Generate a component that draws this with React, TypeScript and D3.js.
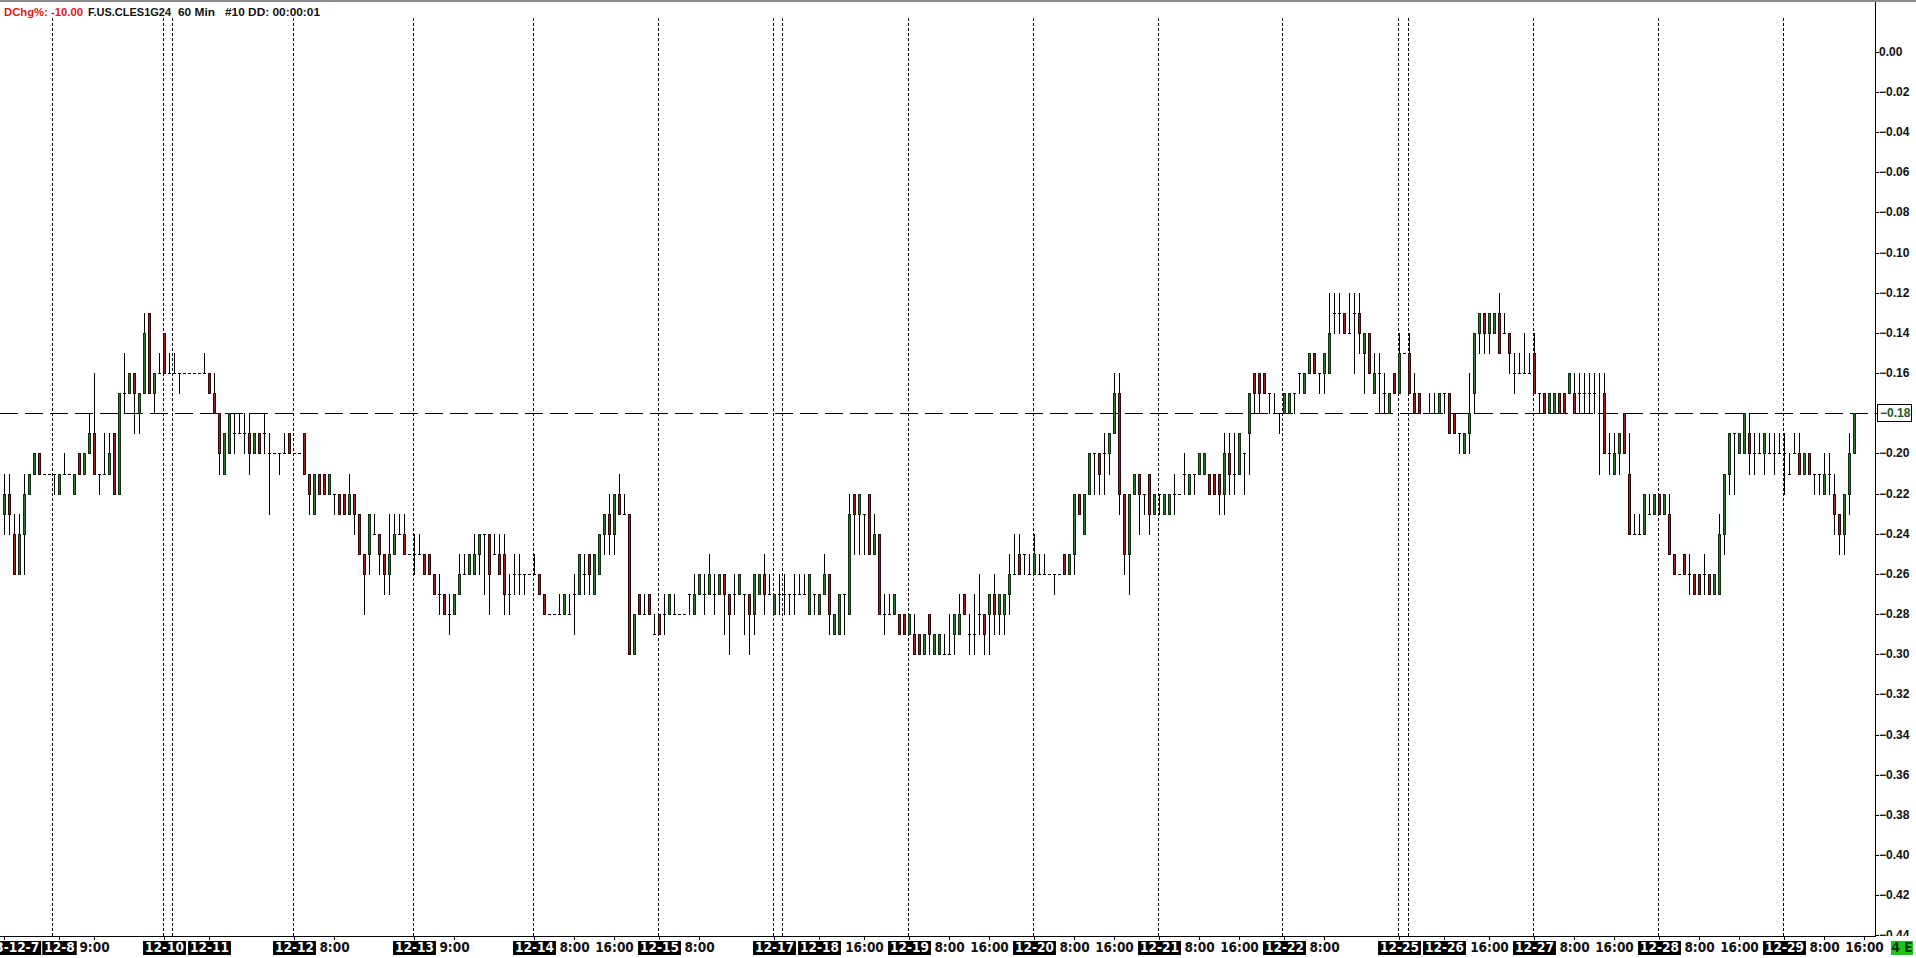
import { useEffect, useRef } from 'react';
import * as d3 from 'd3';

// 60 min bars, DChg% in hundredths below zero (23 means -0.23)
const barOpen = [
  23, 22, 24, 26, 24, 22, 21, 20, 21, 21, 21, 22, 21, 21, 22, 20, 21, 20, 19, 21,
  21, 21, 19, 22, 17, 17, 16, 18, 17, 13, 17, 16, 14, 16, 16, 16, 16, 16, 16, 16,
  16, 16, 17, 18, 21, 20, 19, 19, 19, 19, 20, 19, 19, 20, 20, 20, 20, 19, 20, 20,
  19, 21, 23, 21, 21, 22, 22, 22, 22, 23, 22, 23, 25, 25, 24, 24, 25, 26, 25, 24,
  24, 25, 25, 25, 25, 25, 26, 27, 27, 28, 28, 27, 26, 26, 26, 25, 24, 24, 25, 25,
  25, 27, 26, 26, 26, 26, 26, 26, 27, 28, 28, 28, 28, 28, 27, 27, 26, 25, 27, 26,
  24, 23, 24, 22, 23, 23, 30, 27, 28, 27, 29, 28, 28, 28, 28, 28, 28, 27, 28, 27,
  27, 27, 27, 27, 26, 27, 27, 27, 27, 27, 28, 27, 26, 27, 28, 27, 27, 27, 27, 27,
  27, 28, 27, 28, 27, 26, 29, 29, 27, 28, 22, 23, 23, 22, 25, 24, 28, 28, 28, 28,
  28, 29, 29, 29, 30, 28, 30, 30, 30, 30, 29, 29, 27, 29, 29, 28, 28, 28, 27, 28,
  28, 27, 26, 25, 25, 26, 26, 26, 26, 26, 26, 26, 25, 26, 25, 22, 24, 22, 20, 20,
  20, 20, 19, 17, 22, 25, 22, 21, 22, 21, 23, 22, 23, 23, 22, 22, 21, 22, 21, 21,
  21, 21, 21, 21, 22, 20, 21, 21, 20, 19, 16, 16, 16, 17, 18, 18, 18, 18, 17, 16,
  17, 16, 15, 16, 16, 16, 13, 13, 13, 14, 13, 13, 15, 14, 17, 16, 17, 18, 16, 17,
  15, 15, 17, 17, 18, 18, 18, 18, 17, 17, 18, 19, 20, 19, 17, 14, 13, 14, 14, 13,
  14, 14, 16, 16, 16, 16, 15, 17, 17, 18, 18, 17, 17, 17, 17, 17, 17, 17, 17, 18,
  17, 20, 21, 20, 18, 21, 24, 24, 24, 23, 23, 22, 23, 23, 25, 26, 25, 26, 26, 26,
  26, 26, 27, 27, 24, 21, 19, 20, 20, 19, 20, 20, 20, 20, 20, 20, 20, 21, 20, 20,
  21, 20, 21, 21, 22, 21, 22, 23, 24, 22, 20,
];
const barHigh = [
  21, 21, 23, 23, 21, 21, 20, 20, 21, 21, 21, 21, 20, 21, 21, 20, 20, 18, 16, 21,
  19, 19, 19, 17, 15, 16, 16, 17, 13, 13, 16, 15, 14, 15, 15, 16, 16, 16, 16, 16,
  15, 16, 16, 18, 19, 18, 18, 18, 18, 18, 19, 19, 18, 19, 20, 20, 19, 19, 20, 20,
  19, 21, 21, 21, 21, 21, 22, 22, 22, 21, 22, 23, 25, 23, 23, 24, 25, 23, 23, 23,
  23, 25, 24, 24, 25, 25, 26, 26, 27, 27, 27, 25, 25, 25, 24, 24, 24, 24, 24, 24,
  24, 26, 25, 25, 26, 26, 25, 26, 27, 28, 28, 27, 27, 27, 26, 25, 25, 25, 25, 24,
  23, 22, 22, 21, 22, 23, 28, 27, 27, 27, 28, 28, 27, 27, 27, 28, 28, 27, 26, 26,
  26, 25, 26, 26, 26, 27, 26, 26, 27, 27, 26, 26, 25, 26, 27, 26, 26, 27, 26, 26,
  26, 26, 27, 27, 25, 26, 28, 27, 27, 22, 22, 22, 23, 22, 23, 24, 27, 27, 27, 28,
  28, 28, 28, 29, 29, 28, 29, 29, 29, 28, 28, 27, 27, 28, 27, 26, 28, 27, 26, 27,
  27, 25, 24, 24, 25, 25, 24, 25, 25, 26, 26, 26, 25, 25, 22, 22, 22, 20, 20, 20,
  19, 19, 16, 16, 22, 22, 21, 21, 22, 21, 22, 22, 22, 22, 21, 22, 20, 21, 21, 20,
  20, 21, 21, 21, 19, 19, 19, 19, 20, 17, 16, 16, 16, 17, 17, 18, 17, 17, 17, 16,
  16, 15, 15, 16, 15, 12, 12, 12, 13, 12, 12, 12, 14, 14, 15, 15, 16, 17, 16, 14,
  15, 14, 16, 17, 18, 17, 17, 17, 17, 17, 18, 19, 19, 16, 14, 13, 13, 13, 13, 12,
  13, 14, 15, 15, 14, 15, 14, 17, 17, 17, 17, 17, 17, 16, 16, 16, 16, 16, 16, 16,
  16, 19, 19, 19, 18, 19, 23, 23, 22, 22, 22, 22, 22, 22, 25, 26, 25, 25, 26, 26,
  25, 26, 26, 23, 21, 19, 19, 19, 18, 18, 19, 19, 19, 19, 19, 19, 19, 20, 19, 19,
  20, 20, 21, 21, 20, 20, 21, 23, 22, 19, 18,
];
const barLow = [
  24, 24, 26, 26, 26, 22, 21, 21, 21, 21, 22, 22, 21, 21, 22, 21, 21, 20, 21, 22,
  21, 21, 22, 22, 18, 17, 19, 19, 17, 17, 18, 16, 16, 16, 16, 17, 16, 16, 16, 16,
  16, 17, 18, 21, 21, 20, 20, 19, 20, 21, 20, 20, 20, 23, 20, 21, 20, 20, 20, 20,
  21, 23, 23, 22, 22, 22, 23, 23, 23, 23, 24, 25, 28, 26, 24, 26, 27, 27, 25, 24,
  25, 25, 26, 25, 26, 26, 27, 28, 28, 29, 28, 27, 26, 26, 26, 26, 27, 28, 25, 26,
  28, 28, 27, 27, 27, 26, 26, 27, 28, 28, 28, 28, 28, 28, 29, 27, 27, 27, 27, 26,
  25, 25, 25, 23, 23, 30, 30, 28, 28, 28, 29, 29, 29, 28, 28, 28, 28, 28, 28, 27,
  28, 27, 28, 27, 29, 30, 28, 27, 29, 30, 29, 27, 28, 27, 28, 28, 28, 28, 28, 27,
  27, 28, 28, 28, 27, 29, 29, 29, 29, 28, 25, 25, 25, 25, 25, 28, 29, 28, 28, 29,
  29, 29, 30, 30, 30, 30, 30, 30, 30, 30, 30, 29, 28, 30, 30, 29, 30, 30, 29, 29,
  29, 28, 26, 26, 26, 26, 26, 26, 26, 26, 27, 26, 26, 26, 26, 23, 24, 22, 22, 22,
  22, 21, 19, 23, 26, 27, 22, 24, 23, 24, 23, 23, 23, 23, 23, 22, 22, 22, 22, 21,
  21, 22, 22, 23, 23, 22, 22, 21, 22, 21, 18, 18, 17, 18, 18, 19, 18, 18, 18, 17,
  17, 16, 16, 17, 17, 16, 14, 14, 14, 14, 16, 15, 17, 16, 17, 18, 18, 18, 17, 17,
  15, 17, 18, 18, 18, 18, 18, 18, 18, 19, 19, 20, 20, 20, 18, 15, 15, 15, 14, 15,
  14, 16, 17, 16, 16, 16, 17, 18, 18, 18, 18, 18, 18, 17, 18, 18, 18, 18, 18, 21,
  20, 21, 21, 21, 20, 24, 24, 24, 24, 23, 23, 23, 23, 25, 26, 26, 26, 27, 27, 27,
  27, 27, 27, 27, 25, 22, 22, 20, 20, 21, 21, 20, 21, 20, 21, 20, 22, 21, 20, 21,
  21, 21, 22, 22, 22, 22, 24, 25, 25, 23, 20,
];
const barClose = [
  22, 23, 26, 24, 22, 21, 20, 21, 21, 21, 21, 21, 21, 21, 21, 21, 20, 19, 21, 21,
  21, 20, 22, 17, 17, 16, 17, 17, 14, 17, 16, 16, 16, 16, 16, 16, 16, 16, 16, 16,
  16, 17, 18, 20, 19, 18, 19, 19, 19, 20, 19, 20, 19, 20, 20, 20, 20, 20, 20, 20,
  21, 22, 21, 22, 22, 21, 22, 23, 23, 22, 23, 25, 26, 23, 24, 25, 26, 25, 24, 24,
  25, 25, 25, 25, 26, 26, 27, 27, 28, 28, 27, 26, 26, 25, 25, 24, 24, 26, 25, 26,
  27, 27, 26, 26, 26, 26, 26, 27, 28, 28, 28, 28, 27, 28, 27, 25, 26, 26, 25, 24,
  23, 24, 22, 23, 23, 30, 28, 28, 28, 28, 29, 29, 28, 27, 28, 28, 28, 27, 27, 26,
  27, 26, 27, 26, 27, 28, 27, 26, 27, 28, 26, 26, 27, 27, 27, 27, 27, 27, 27, 27,
  27, 26, 27, 27, 26, 28, 28, 27, 27, 23, 23, 22, 23, 25, 24, 28, 28, 28, 27, 29,
  29, 28, 30, 30, 29, 29, 29, 29, 30, 30, 28, 28, 28, 29, 29, 28, 29, 27, 28, 27,
  27, 26, 26, 26, 25, 26, 25, 26, 26, 26, 26, 26, 26, 25, 22, 23, 22, 20, 20, 21,
  20, 19, 17, 22, 25, 22, 21, 22, 22, 23, 22, 22, 22, 22, 22, 22, 21, 21, 21, 20,
  20, 22, 22, 22, 20, 21, 21, 19, 20, 17, 17, 17, 17, 17, 18, 18, 17, 17, 17, 16,
  16, 15, 16, 16, 15, 14, 13, 13, 14, 14, 13, 14, 14, 16, 16, 16, 17, 17, 17, 15,
  15, 17, 18, 18, 18, 18, 18, 17, 17, 19, 19, 19, 19, 18, 14, 13, 14, 13, 13, 15,
  14, 15, 16, 16, 16, 16, 17, 17, 18, 17, 17, 18, 18, 16, 18, 17, 17, 17, 17, 18,
  20, 20, 20, 19, 20, 24, 24, 24, 22, 23, 22, 23, 22, 25, 26, 26, 26, 26, 27, 27,
  26, 27, 26, 24, 21, 19, 19, 19, 18, 20, 20, 20, 19, 20, 20, 20, 20, 21, 20, 21,
  20, 21, 21, 21, 21, 21, 23, 24, 22, 20, 18,
];

const priceTicks = [
  0, -0.02, -0.04, -0.06, -0.08, -0.1, -0.12, -0.14, -0.16, -0.18, -0.2, -0.22,
  -0.24, -0.26, -0.28, -0.3, -0.32, -0.34, -0.36, -0.38, -0.4, -0.42, -0.44,
];
const lastPrice = -0.18;

// session separators, in bar units
const sessionBreaks = [
  9.6, 31.7, 33.6, 57.7, 81.7, 105.8, 130.7, 153.7, 155.6, 180.7, 205.8, 230.8,
  255.5, 278.7, 280.7, 305.7, 330.8, 355.7,
];

const timeLabelBar = [
  0, 11, 18, 32, 41, 58, 66, 82, 90, 106, 114, 122, 131, 139, 154, 163, 172, 181,
  189, 197, 206, 214, 222, 231, 239, 247, 256, 264, 279, 288, 297, 306, 314, 322,
  331, 339, 347, 356, 364, 372,
];
const timeLabelText = [
  '2023-12-7', '12-8', '9:00', '12-10', '12-11', '12-12', '8:00', '12-13', '9:00',
  '12-14', '8:00', '16:00', '12-15', '8:00', '12-17', '12-18', '16:00', '12-19',
  '8:00', '16:00', '12-20', '8:00', '16:00', '12-21', '8:00', '16:00', '12-22',
  '8:00', '12-25', '12-26', '16:00', '12-27', '8:00', '16:00', '12-28', '8:00',
  '16:00', '12-29', '8:00', '16:00',
];

const headerParts = ['DChg%: -10.00', 'F.US.CLES1G24', '60 Min', '#10 DD: 00:00:01'];
const headerColors = ['#e01818', '#111', '#111', '#111'];

const W = 1916;
const H = 958;
const AXIS_X = 1875;
const AXIS_Y = 936;
const UP = '#2f762f';
const UP_EDGE = '#0e2e0e';
const DOWN = '#9a2020';
const DOWN_EDGE = '#2e0808';
const LABEL_FONT = "'Liberation Sans Narrow', 'DejaVu Sans Condensed', 'Liberation Sans', sans-serif";
const HEAD_FONT = "'Liberation Sans', Arial, sans-serif";

export default function App() {
  const svgRef = useRef<SVGSVGElement>(null);

  useEffect(() => {
    if (!svgRef.current) return;
    const svg = d3.select(svgRef.current);
    svg.selectAll('*').remove();

    const x = d3.scaleLinear().domain([0, barOpen.length - 1]).range([4.3, 1854.3]);
    const y = d3.scaleLinear().domain([0, -0.42]).range([51.7, 895.3]);
    const px = (i: number) => Math.round(x(i));
    const py = (v: number) => Math.round(y(v));

    const bars = barOpen.map((o, i) => ({
      i,
      o: -o / 100,
      h: -barHigh[i] / 100,
      l: -barLow[i] / 100,
      c: -barClose[i] / 100,
    }));

    svg.append('rect').attr('width', W).attr('height', H).attr('fill', '#fff');
    svg.append('rect').attr('width', W).attr('height', 2).attr('fill', '#8c8c8c');

    // header, pinned to the spans it takes in the reference
    const headX = [4, 88, 178, 225];
    const headW = [79, 83, 37, 95];
    const head = svg.append('g')
      .attr('font-family', HEAD_FONT)
      .attr('font-size', 11.5)
      .attr('font-weight', 'bold');
    headerParts.forEach((txt, k) => {
      head.append('text')
        .attr('x', headX[k])
        .attr('y', 15.5)
        .attr('fill', headerColors[k])
        .attr('textLength', headW[k])
        .attr('lengthAdjust', 'spacingAndGlyphs')
        .text(txt);
    });

    const plot = svg.append('g').attr('shape-rendering', 'crispEdges');

    // session separators
    plot.selectAll('line.sep')
      .data(sessionBreaks)
      .enter()
      .append('line')
      .attr('class', 'sep')
      .attr('x1', d => px(d) + 0.5)
      .attr('x2', d => px(d) + 0.5)
      .attr('y1', 18)
      .attr('y2', AXIS_Y)
      .attr('stroke', '#000')
      .attr('stroke-dasharray', '3,2');

    // last value line
    plot.append('line')
      .attr('x1', 0)
      .attr('x2', AXIS_X)
      .attr('y1', py(lastPrice) + 0.5)
      .attr('y2', py(lastPrice) + 0.5)
      .attr('stroke', '#000')
      .attr('stroke-dasharray', '18,7');

    // candles
    const candle = plot.selectAll('g.bar')
      .data(bars)
      .enter()
      .append('g')
      .attr('class', 'bar');

    candle.filter(d => d.h !== d.l)
      .append('line')
      .attr('x1', d => px(d.i) + 0.5)
      .attr('x2', d => px(d.i) + 0.5)
      .attr('y1', d => py(d.h))
      .attr('y2', d => py(d.l) + 1)
      .attr('stroke', '#000');

    candle.filter(d => d.o !== d.c)
      .append('rect')
      .attr('x', d => px(d.i) - 0.5)
      .attr('y', d => Math.min(py(d.o), py(d.c)) + 0.5)
      .attr('width', 2)
      .attr('height', d => Math.abs(py(d.o) - py(d.c)))
      .attr('fill', d => (d.c > d.o ? UP : DOWN))
      .attr('stroke', d => (d.c > d.o ? UP_EDGE : DOWN_EDGE));

    candle.filter(d => d.o === d.c)
      .append('line')
      .attr('x1', d => px(d.i) - 1)
      .attr('x2', d => px(d.i) + 2)
      .attr('y1', d => py(d.o) + 0.5)
      .attr('y2', d => py(d.o) + 0.5)
      .attr('stroke', '#000');

    // right price axis
    svg.append('line')
      .attr('x1', AXIS_X + 0.5).attr('x2', AXIS_X + 0.5)
      .attr('y1', 2).attr('y2', AXIS_Y)
      .attr('stroke', '#000')
      .attr('shape-rendering', 'crispEdges');

    svg.append('defs').append('clipPath').attr('id', 'yclip')
      .append('rect').attr('width', W).attr('height', AXIS_Y);

    const yAxis = svg.append('g').attr('clip-path', 'url(#yclip)');
    yAxis.selectAll('line')
      .data(priceTicks)
      .enter()
      .append('line')
      .attr('x1', AXIS_X)
      .attr('x2', AXIS_X + 4)
      .attr('y1', d => py(d) + 0.5)
      .attr('y2', d => py(d) + 0.5)
      .attr('stroke', '#000')
      .attr('shape-rendering', 'crispEdges');
    yAxis.selectAll('text')
      .data(priceTicks.filter(d => Math.abs(d - lastPrice) > 1e-9))
      .enter()
      .append('text')
      .attr('x', 1879)
      .attr('y', d => py(d))
      .attr('dy', '0.36em')
      .attr('font-family', HEAD_FONT)
      .attr('font-size', 12)
      .attr('font-weight', 'bold')
      .attr('fill', '#111')
      .text(d => (d === 0 ? '0.00' : d3.format('.2f')(d)));

    // last value tag
    const tagY = py(lastPrice);
    svg.append('rect')
      .attr('x', 1877.5).attr('y', tagY - 8.5)
      .attr('width', 34).attr('height', 17)
      .attr('fill', '#fff').attr('stroke', '#000')
      .attr('shape-rendering', 'crispEdges');
    svg.append('text')
      .attr('x', 1880).attr('y', tagY).attr('dy', '0.36em')
      .attr('font-family', HEAD_FONT).attr('font-size', 12).attr('font-weight', 'bold')
      .attr('fill', '#245a24')
      .text(d3.format('.2f')(lastPrice));

    // time axis
    svg.append('rect').attr('x', 0).attr('y', AXIS_Y + 1).attr('width', W).attr('height', H - AXIS_Y - 1).attr('fill', '#fff');
    svg.append('line')
      .attr('x1', 0).attr('x2', AXIS_X + 1)
      .attr('y1', AXIS_Y + 0.5).attr('y2', AXIS_Y + 0.5)
      .attr('stroke', '#000')
      .attr('shape-rendering', 'crispEdges');

    const tl = svg.append('g');
    timeLabelBar.forEach((b, k) => {
      const cx = px(b);
      const label = timeLabelText[k];
      const isDate = label.includes('-');
      tl.append('line')
        .attr('x1', cx + 0.5).attr('x2', cx + 0.5)
        .attr('y1', AXIS_Y).attr('y2', AXIS_Y + 4)
        .attr('stroke', '#000')
        .attr('shape-rendering', 'crispEdges');
      const box = tl.append('rect');
      const t = tl.append('text')
        .attr('x', cx + 0.5)
        .attr('y', 952.3)
        .attr('text-anchor', 'middle')
        .attr('font-family', LABEL_FONT)
        .attr('font-size', 13.5)
        .attr('font-weight', 'bold')
        .attr('fill', isDate ? '#fff' : '#111')
        .text(label);
      if (isDate) {
        const w = (t.node() as SVGTextElement).getComputedTextLength() + 4;
        box.attr('x', cx + 0.5 - w / 2).attr('y', 941).attr('width', w).attr('height', 14).attr('fill', '#000');
      } else {
        box.remove();
      }
    });

    // bar count badge
    svg.append('rect').attr('x', 1891).attr('y', 941).attr('width', 22).attr('height', 14).attr('fill', '#1fc31f');
    svg.append('text')
      .attr('x', 1902).attr('y', 952.3).attr('text-anchor', 'middle')
      .attr('font-family', LABEL_FONT).attr('font-size', 13.5).attr('font-weight', 'bold')
      .attr('fill', '#0b3b0b')
      .text('4 E');
  }, []);

  return (
    <div style={{ position: 'fixed', left: 0, top: 0 }}>
      <svg ref={svgRef} width={W} height={H} style={{ display: 'block' }} />
    </div>
  );
}
